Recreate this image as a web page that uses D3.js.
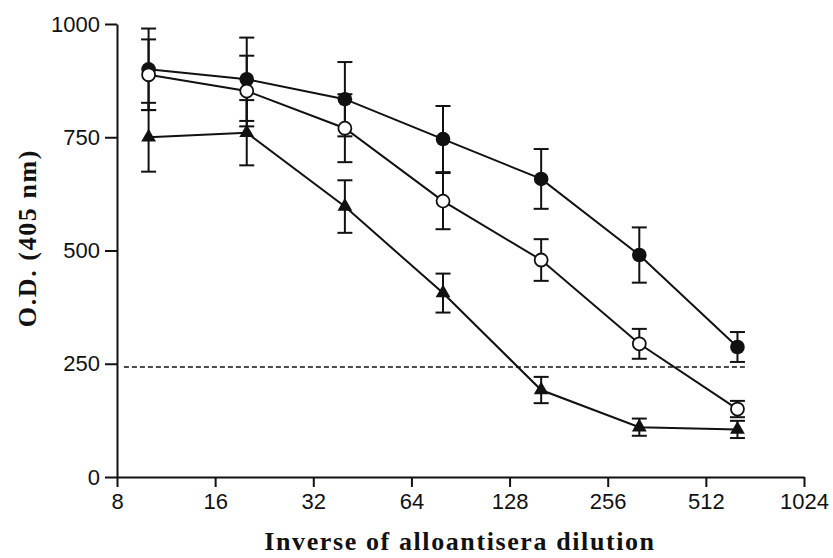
<!DOCTYPE html>
<html>
<head>
<meta charset="utf-8">
<script src="https://cdn.jsdelivr.net/npm/d3@7"></script>
<style>
  body { margin: 0; background: #fff; }
  .axis text { font-family: "Liberation Sans", Arial, sans-serif; font-size: 22px; fill: #111; }
  .axis path, .axis line { stroke: #111; stroke-width: 2; }
  .title { font-family: "Liberation Serif", "Times New Roman", serif; font-weight: bold; font-size: 26px; letter-spacing: 1.6px; fill: #111; }
</style>
</head>
<body>
<div id="chart"></div>
<script>
// dilution (inverse) on a log2 axis
var dilutions = [10, 20, 40, 80, 160, 320, 640];

// filled circles
var filledMean = [900, 878, 834, 746, 658, 490, 287];
var filledErr = [90, 92, 82, 73, 66, 61, 33];
// open circles
var openMean = [888, 852, 770, 609, 479, 294, 150];
var openErr = [78, 78, 75, 62, 46, 33, 18];
// filled triangles
var triMean = [750, 760, 597, 406, 192, 110, 105];
var triErr = [76, 72, 58, 43, 29, 19, 19];

var xTicks = [8, 16, 32, 64, 128, 256, 512, 1024];
var yTicks = [0, 250, 500, 750, 1000];

// dashed cutoff line
var cutoff = 243;
var cutoffRange = [8.4, 690];

var margin = { top: 24, right: 29, bottom: 81, left: 117 },
  width = 833 - margin.left - margin.right,
  height = 558 - margin.top - margin.bottom;

var svg = d3.select("#chart")
  .append("svg")
  .attr("width", 833)
  .attr("height", 558)
  .append("g")
  .attr("transform", "translate(" + margin.left + "," + margin.top + ")");

var x = d3.scaleLog().base(2)
  .domain([8, 1024])
  .range([0, width]);

var y = d3.scaleLinear()
  .domain([0, 1000])
  .range([height, 0]);

// axes
svg.append("g")
  .attr("class", "axis")
  .attr("transform", "translate(0," + height + ")")
  .call(d3.axisBottom(x).tickValues(xTicks).tickFormat(d3.format("d")).tickSize(10).tickSizeOuter(0).tickPadding(6));

svg.append("g")
  .attr("class", "axis")
  .call(d3.axisLeft(y).tickValues(yTicks).tickFormat(d3.format("d")).tickSize(12).tickSizeOuter(0).tickPadding(5));

// cutoff line
svg.append("line")
  .attr("x1", x(cutoffRange[0]))
  .attr("x2", x(cutoffRange[1]))
  .attr("y1", y(cutoff))
  .attr("y2", y(cutoff))
  .attr("stroke", "#111")
  .attr("stroke-width", 1.5)
  .attr("stroke-dasharray", "5,3");

var series = [
  { key: "filled", mean: filledMean, err: filledErr },
  { key: "open", mean: openMean, err: openErr },
  { key: "tri", mean: triMean, err: triErr }
];

var line = d3.line()
  .x(function (d) { return x(d.x); })
  .y(function (d) { return y(d.y); });

series.forEach(function (s) {
  s.points = dilutions.map(function (d, i) { return { x: d, y: s.mean[i], e: s.err[i] }; });
});

// error bars
series.forEach(function (s) {
  var g = svg.append("g").attr("stroke", "#111").attr("stroke-width", 2);
  s.points.forEach(function (p) {
    var cx = x(p.x);
    g.append("line").attr("x1", cx).attr("x2", cx).attr("y1", y(p.y - p.e)).attr("y2", y(p.y + p.e));
    g.append("line").attr("x1", cx - 7.5).attr("x2", cx + 7.5).attr("y1", y(p.y - p.e)).attr("y2", y(p.y - p.e));
    g.append("line").attr("x1", cx - 7.5).attr("x2", cx + 7.5).attr("y1", y(p.y + p.e)).attr("y2", y(p.y + p.e));
  });
});

// lines
series.forEach(function (s) {
  svg.append("path")
    .datum(s.points)
    .attr("fill", "none")
    .attr("stroke", "#111")
    .attr("stroke-width", 2)
    .attr("d", line);
});

// markers
var tri = d3.symbol().type(d3.symbolTriangle).size(95);
series.forEach(function (s) {
  var g = svg.append("g");
  s.points.forEach(function (p) {
    if (s.key == "tri") {
      g.append("path")
        .attr("d", tri)
        .attr("transform", "translate(" + x(p.x) + "," + y(p.y) + ")")
        .attr("fill", "#111");
    } else {
      g.append("circle")
        .attr("cx", x(p.x))
        .attr("cy", y(p.y))
        .attr("r", s.key == "open" ? 6.5 : 7.3)
        .attr("fill", s.key == "open" ? "#fff" : "#111")
        .attr("stroke", "#111")
        .attr("stroke-width", s.key == "open" ? 1.8 : 0);
    }
  });
});

// axis titles
svg.append("text")
  .attr("class", "title")
  .attr("text-anchor", "middle")
  .attr("x", 460 - margin.left)
  .attr("y", 550 - margin.top)
  .text("Inverse of alloantisera dilution");

svg.append("text")
  .attr("class", "title")
  .attr("text-anchor", "middle")
  .attr("transform", "translate(" + (36 - margin.left) + "," + (238 - margin.top) + ") rotate(-90)")
  .text("O.D. (405 nm)");
</script>
</body>
</html>
